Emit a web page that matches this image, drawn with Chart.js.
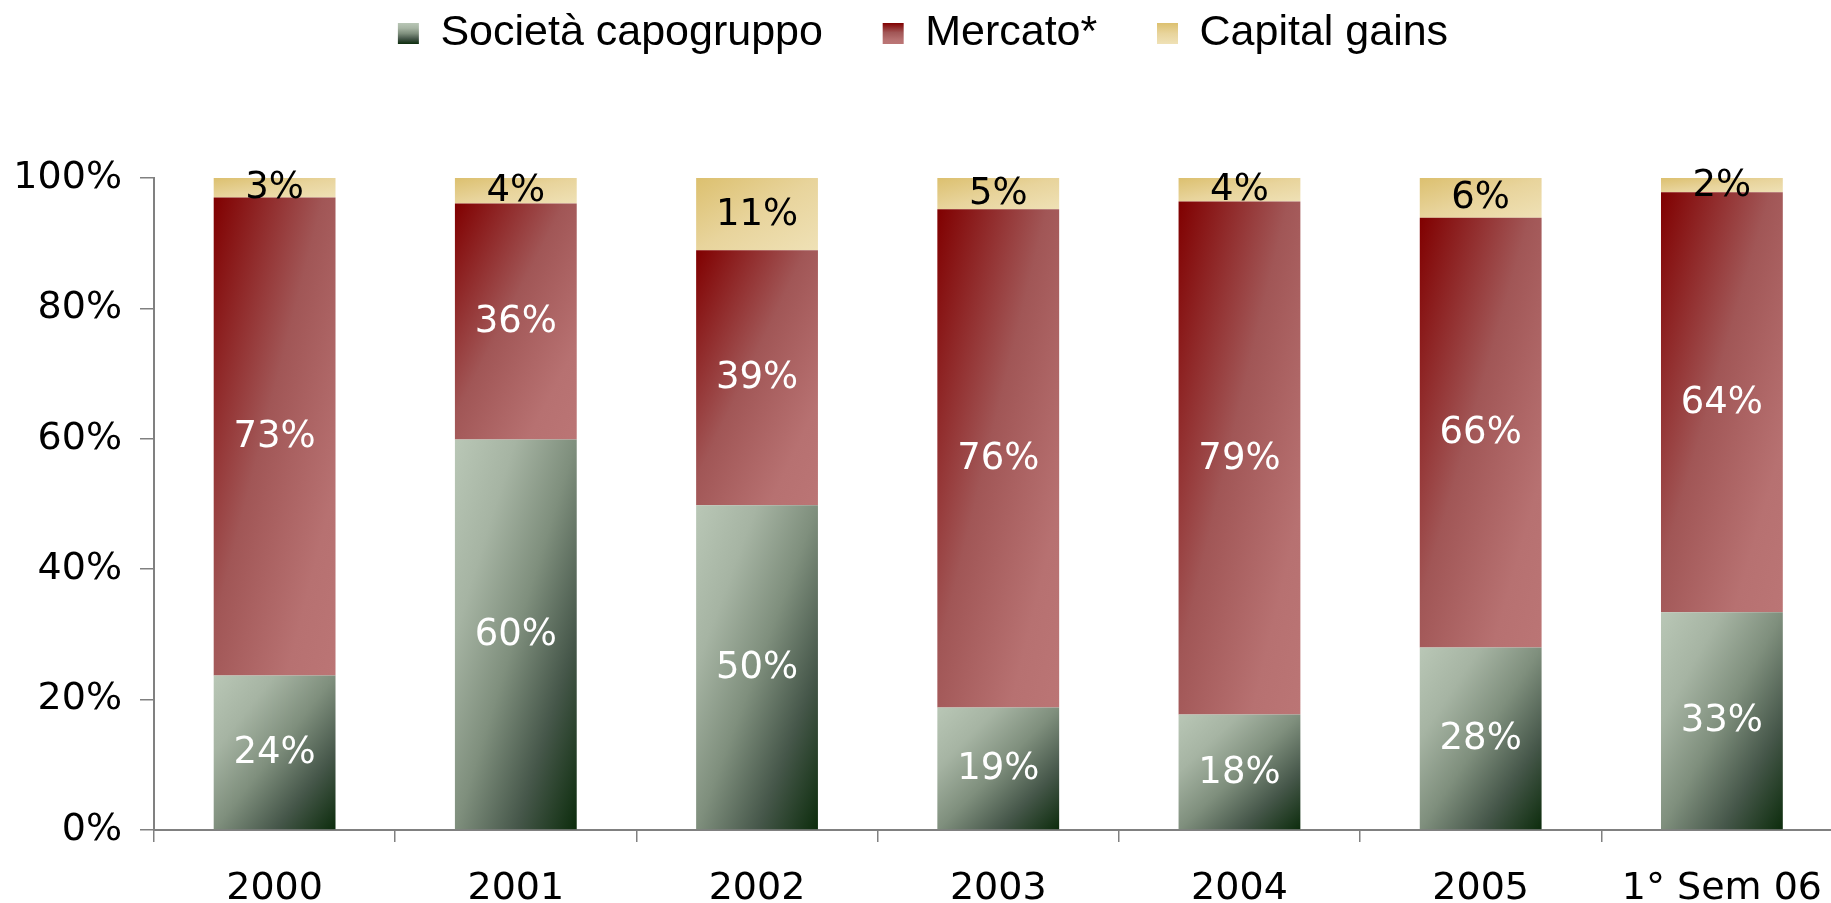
<!DOCTYPE html>
<html>
<head>
<meta charset="utf-8">
<title>Società capogruppo / Mercato / Capital gains</title>
<script src="https://cdn.jsdelivr.net/npm/chart.js@4.4.0/dist/chart.umd.min.js"></script>
<style>
  html, body { margin: 0; padding: 0; background: #fff; overflow: hidden; }
  #wrap { width: 1846px; height: 903px; }
</style>
</head>
<body>
<div id="wrap"><canvas id="myChart" width="1846" height="903"></canvas></div>
<script>
// data (percent of total per period)
var categories = ['2000', '2001', '2002', '2003', '2004', '2005', '1° Sem 06'];
var seriesNames = ['Società capogruppo', 'Mercato*', 'Capital gains'];
var capogruppo = [23.7, 59.9, 49.8, 18.8, 17.7, 28.0, 33.4];
var mercato = [73.3, 36.2, 39.1, 76.4, 78.7, 65.9, 64.4];
var capitalGains = [3.0, 3.9, 11.1, 4.8, 3.6, 6.1, 2.2];
var yTicks = [0, 20, 40, 60, 80, 100];
var yTickLabels = ['0%', '20%', '40%', '60%', '80%', '100%'];

/*
# colours
*/
var stops = [
  [[0, '#b9c7b6'], [0.25, '#a6b4a3'], [0.5, '#7f8f7d'], [0.75, '#46574a'], [1, '#0c2c0c']],
  [[0, '#800000'], [0.45, '#a15656'], [0.8, '#b77171'], [1, '#bb7575']],
  [[0, '#dcc06f'], [0.5, '#e8d49c'], [1, '#efe1b6']]
];
var labelColors = ['#ffffff', '#ffffff', '#000000'];
var legendTextPad = ['    ', '    ', ''];
var barFraction = 0.505;

function fillStops(g, list) {
  list.forEach(function (s) { g.addColorStop(s[0], s[1]); });
  return g;
}

// diagonal gradient for each bar segment, built from the scales
function barGradient(d) {
  return function (c) {
    var chart = c.chart;
    if (!chart.chartArea || c.type !== 'data') return stops[d][0][1];
    var xs = chart.scales.x, ys = chart.scales.y;
    var i = c.dataIndex;
    var base = 0;
    for (var k = 0; k < d; k++) base += chart.data.datasets[k].data[i];
    var top = base + chart.data.datasets[d].data[i];
    var cw = (xs.right - xs.left) / categories.length;
    var w = cw * barFraction;
    var L = xs.getPixelForValue(i) - w / 2;
    var T = ys.getPixelForValue(top);
    var h = Math.max(ys.getPixelForValue(base) - T, 1);
    var n = h * h + w * w;
    var g = chart.ctx.createLinearGradient(L, T, L + 2 * w * h * h / n, T + 2 * w * w * h / n);
    return fillStops(g, stops[d]);
  };
}

var legendSpace = {
  id: 'legendSpace',
  beforeInit: function (chart) {
    var fit = chart.legend.fit;
    chart.legend.fit = function () {
      fit.call(this);
      this.height = 178;
    };
  }
};

var legendGradients = {
  id: 'legendGradients',
  beforeDraw: function (chart) {
    var lg = chart.legend;
    if (!lg || !lg.legendHitBoxes || !lg.legendItems) return;
    lg.legendItems.forEach(function (item, i) {
      var hb = lg.legendHitBoxes[i];
      if (!hb) return;
      var top = hb.top + (hb.height - 21) / 2;
      item.fillStyle = fillStops(chart.ctx.createLinearGradient(0, top, 0, top + 21), stops[i]);
    });
  }
};

var segmentLabels = {
  id: 'segmentLabels',
  afterDatasetsDraw: function (chart) {
    var ctx = chart.ctx;
    ctx.save();
    ctx.font = '37px "DejaVu Sans"';
    ctx.textAlign = 'center';
    ctx.textBaseline = 'middle';
    chart.data.datasets.forEach(function (ds, d) {
      var meta = chart.getDatasetMeta(d);
      meta.data.forEach(function (bar, i) {
        var p = bar.getProps(['x', 'y', 'base'], true);
        ctx.fillStyle = labelColors[d];
        ctx.fillText(Math.round(ds.data[i]) + '%', p.x, (p.y + p.base) / 2 + 1);
      });
    });
    ctx.restore();
  }
};

var ctx = document.getElementById('myChart').getContext('2d');
var chart = new Chart(ctx, {
  type: 'bar',
  data: {
    labels: categories,
    datasets: [
      { label: seriesNames[0], data: capogruppo, backgroundColor: barGradient(0) },
      { label: seriesNames[1], data: mercato, backgroundColor: barGradient(1) },
      { label: seriesNames[2], data: capitalGains, backgroundColor: barGradient(2) }
    ]
  },
  options: {
    responsive: false,
    animation: false,
    categoryPercentage: 1,
    barPercentage: barFraction,
    layout: { padding: 0 },
    plugins: {
      tooltip: { enabled: false },
      legend: {
        position: 'top',
        labels: {
          font: { family: '"Liberation Sans", Arial, sans-serif', size: 43 },
          color: '#000',
          boxWidth: 21,
          boxHeight: 21,
          padding: 12,
          generateLabels: function () {
            return seriesNames.map(function (name, i) {
              return {
                text: name + legendTextPad[i],
                fillStyle: stops[i][0][1],
                strokeStyle: 'rgba(0,0,0,0)',
                lineWidth: 0,
                hidden: false,
                datasetIndex: i
              };
            });
          }
        }
      }
    },
    scales: {
      x: {
        stacked: true,
        afterFit: function (scale) { scale.height = 73; },
        grid: { drawOnChartArea: false, tickLength: 12, color: '#808080', lineWidth: 1.5 },
        border: { color: '#808080', width: 2 },
        ticks: {
          font: { family: '"DejaVu Sans", sans-serif', size: 38 },
          color: '#000',
          padding: 24,
          maxRotation: 0,
          autoSkip: false
        }
      },
      y: {
        stacked: true,
        min: 0,
        max: 100,
        afterFit: function (scale) { scale.width = 154; },
        afterBuildTicks: function (scale) {
          scale.ticks = yTicks.map(function (v) { return { value: v }; });
        },
        grid: { drawOnChartArea: false, tickLength: 14, color: '#808080', lineWidth: 1.5 },
        border: { color: '#808080', width: 2 },
        ticks: {
          font: { family: '"DejaVu Sans", sans-serif', size: 38 },
          color: '#000',
          padding: 18,
          callback: function (value) { return yTickLabels[yTicks.indexOf(value)]; }
        }
      }
    }
  },
  plugins: [legendSpace, legendGradients, segmentLabels]
});
</script>
</body>
</html>
